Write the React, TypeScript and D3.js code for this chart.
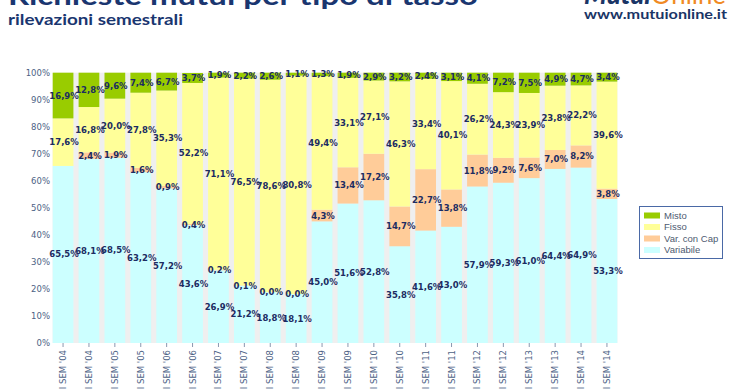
import * as d3 from "d3";

const periods = [
  "I SEM '04", "II SEM '04", "I SEM '05", "II SEM '05", "I SEM '06", "II SEM '06",
  "I SEM '07", "II SEM '07", "I SEM '08", "II SEM '08", "I SEM '09", "II SEM '09",
  "I SEM '10", "II SEM '10", "I SEM '11", "II SEM '11", "I SEM '12", "II SEM '12",
  "I SEM '13", "II SEM '13", "I SEM '14", "II SEM '14",
];
const variabile = [65.5, 68.1, 68.5, 63.2, 57.2, 43.6, 26.9, 21.2, 18.8, 18.1, 45.0, 51.6, 52.8, 35.8, 41.6, 43.0, 57.9, 59.3, 61.0, 64.4, 64.9, 53.3];
// first period has no "con cap" figure
const conCap = [null, 2.4, 1.9, 1.6, 0.9, 0.4, 0.2, 0.1, 0.0, 0.0, 4.3, 13.4, 17.2, 14.7, 22.7, 13.8, 11.8, 9.2, 7.6, 7.0, 8.2, 3.8];
const fisso = [17.6, 16.8, 20.0, 27.8, 35.3, 52.2, 71.1, 76.5, 78.6, 80.8, 49.4, 33.1, 27.1, 46.3, 33.4, 40.1, 26.2, 24.3, 23.9, 23.8, 22.2, 39.6];
const misto = [16.9, 12.8, 9.6, 7.4, 6.7, 3.7, 1.9, 2.2, 2.6, 1.1, 1.3, 1.9, 2.9, 3.2, 2.4, 3.1, 4.1, 7.2, 7.5, 4.9, 4.7, 3.4];
const yTicks = [0, 10, 20, 30, 40, 50, 60, 70, 80, 90, 100];

const seriesNames = ["Variabile", "Var. con Cap", "Fisso", "Misto"];
const seriesValues = [variabile, conCap, fisso, misto];
const colors = ["#ccffff", "#ffcc99", "#ffff99", "#99cc00"];

const W = 740;
const H = 389;

const x = d3.scaleBand<string>().domain(periods).range([52.7, 617.3]).paddingInner(0.2).paddingOuter(0);
const y = d3.scaleLinear().domain([0, 100]).range([343, 72.7]);
const fmt = (v: number) => v.toFixed(1).replace(".", ",") + "%";

type Seg = { i: number; s: number; y0: number; y1: number; v: number | null };

const segs: Seg[] = [];
periods.forEach((_, i) => {
  let acc = 0;
  seriesValues.forEach((arr, s) => {
    const v = arr[i];
    const val = v ?? 0;
    segs.push({ i, s, y0: acc, y1: Math.min(100, acc + val), v });
    acc += val;
  });
});

export default function App() {
  const navy = "#1a3670";
  const lbl = "#1c2c62";
  const axisCol = "#4d6285";
  const bx = x(periods[0])!;
  const bEnd = x(periods[periods.length - 1])! + x.bandwidth();
  return (
    <svg width={W} height={H} style={{ position: "absolute", left: 0, top: 0, background: "#fff" }}>
      {/* heading */}
      <text x={8} y={5} fontFamily="Lato" fontWeight={700} fontSize={27} fill={navy} textLength={470} lengthAdjust="spacingAndGlyphs">
        Richieste mutui per tipo di tasso
      </text>
      <text x={8} y={25} fontFamily="Lato" fontWeight={700} fontSize={16} fill={navy} textLength={175} lengthAdjust="spacingAndGlyphs">
        rilevazioni semestrali
      </text>
      <text x={584} y={4} fontFamily="Lato" fontWeight={900} fontSize={26} textLength={142} lengthAdjust="spacingAndGlyphs">
        <tspan fill="#1a3566" fontStyle="italic">Mutui</tspan>
        <tspan fill="#f08a24" fontWeight={400}>Online</tspan>
      </text>
      <text x={584} y={19} fontFamily="Lato" fontWeight={700} fontSize={14} fill="#1a3566" textLength={143} lengthAdjust="spacingAndGlyphs">
        www.mutuionline.it
      </text>

      {/* plot background */}
      <rect x={bx} y={y(100)} width={bEnd - bx} height={y(0) - y(100)} fill="#efefef" />

      {/* y axis labels */}
      {yTicks.map((t) => (
        <text key={t} x={50} y={y(t)} dy="0.35em" textAnchor="end" fontFamily="DejaVu Sans" fontSize={8.5} fill={axisCol}>
          {t}%
        </text>
      ))}

      {/* bars */}
      {segs.map((d) => (
        <rect
          key={`r${d.i}-${d.s}`}
          x={x(periods[d.i])}
          y={y(d.y1)}
          width={x.bandwidth()}
          height={Math.max(0, y(d.y0) - y(d.y1))}
          fill={colors[d.s]}
        />
      ))}

      {/* x axis ticks & labels */}
      {periods.map((p) => {
        const cx = x(p)! + x.bandwidth() / 2;
        return (
          <g key={p}>
            <line x1={cx} x2={cx} y1={343} y2={347} stroke="#8a98b0" />
            <text
              transform={`translate(${cx},${350}) rotate(-90)`}
              dy="0.35em"
              textAnchor="end"
              fontFamily="DejaVu Sans"
              fontSize={8.5}
              fill={axisCol}
            >
              {p}
            </text>
          </g>
        );
      })}

      {/* value labels */}
      {segs
        .filter((d) => d.v !== null)
        .map((d) => (
          <text
            key={`t${d.i}-${d.s}`}
            x={x(periods[d.i])! + x.bandwidth() / 2 + 1}
            y={y((d.y0 + d.y1) / 2)}
            dy="0.35em"
            textAnchor="middle"
            fontFamily="DejaVu Sans"
            fontWeight={700}
            fontSize={8.5}
            fill={lbl}
          >
            {fmt(d.v as number)}
          </text>
        ))}

      {/* legend */}
      <rect x={639.5} y={206.5} width={83} height={52} fill="#fff" stroke="#4a69a6" />
      {seriesNames
        .map((n, s) => ({ n, s }))
        .reverse()
        .map((d, k) => (
          <g key={d.n} transform={`translate(644,${215.5 + k * 11.5})`}>
            <rect x={0} y={-3} width={16} height={6} fill={colors[d.s]} />
            <text x={20} y={0} dy="0.35em" fontFamily="Liberation Sans" fontSize={9.5} fill="#4d5a70">
              {d.n}
            </text>
          </g>
        ))}
    </svg>
  );
}
